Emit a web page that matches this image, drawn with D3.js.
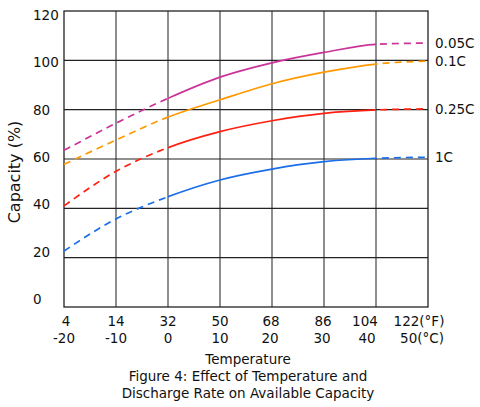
<!DOCTYPE html>
<html>
<head>
<meta charset="utf-8">
<script src="https://cdn.jsdelivr.net/npm/d3@7"></script>
<style>
  body { margin: 0; background: #fff; }
  text { font-family: "DejaVu Sans", Verdana, sans-serif; fill: #111; }
</style>
</head>
<body>
<div id="chart"></div>
<script>
// data
const tempC = [-20, -10, 0, 10, 20, 30, 40, 50];
const tempFLabels = ["4", "14", "32", "50", "68", "86", "104", "122(°F)"];
const tempCLabels = ["-20", "-10", "0", "10", "20", "30", "40", "50(°C)"];
const yTicks = [0, 20, 40, 60, 80, 100, 120];
const rateNames = ["0.05C", "0.1C", "0.25C", "1C"];
const cap005 = [63.5, 74.5, 84.6, 93.2, 99, 103.2, 106.5, 107];
const cap01 = [57.8, 67.7, 77, 84, 90.5, 95.2, 98.5, 99.7];
const cap025 = [41, 55, 64.6, 71.1, 75.5, 78.5, 79.9, 80.3];
const cap1 = [22.7, 35.7, 44.7, 51.5, 55.9, 58.9, 60.3, 60.7];

const colors = ["#cc3399", "#ff9900", "#ff2010", "#1a6fe8"];
const W = 480, H = 407;
const plotL = 64, plotR = 428, plotT = 11, plotB = 307;
const fs = 13.5;
// the scanned labels near the right edge drift left of their grid lines
const fShift = [2, 0, 0, 0, -1, -1, -11, -9];
const cShift = [0, 0, 0, 0, -2, -2, -9, -6];

const svg = d3.select("#chart").append("svg")
  .attr("width", W).attr("height", H);

const x = d3.scaleLinear().domain([-20, 50]).range([plotL, plotR]);
const y = d3.scaleLinear().domain([0, 120]).range([plotB, plotT]);
// the scanned tick labels sit on a slightly tighter spacing than the grid
const yLabel = d3.scaleLinear().domain([0, 120]).range([299, 15]);

// grid
svg.append("g").selectAll("line").data(tempC.slice(1, -1)).join("line")
  .attr("x1", d => x(d)).attr("x2", d => x(d))
  .attr("y1", plotT).attr("y2", plotB)
  .attr("stroke", "#444").attr("stroke-width", 1.2);
svg.append("g").selectAll("line").data(yTicks.slice(1, -1)).join("line")
  .attr("x1", plotL).attr("x2", plotR)
  .attr("y1", d => y(d)).attr("y2", d => y(d))
  .attr("stroke", "#222").attr("stroke-width", 1.2);
svg.append("rect")
  .attr("x", plotL).attr("y", plotT)
  .attr("width", plotR - plotL).attr("height", plotB - plotT)
  .attr("fill", "none").attr("stroke", "#222").attr("stroke-width", 1.3);

// y tick labels
svg.append("g").selectAll("text").data(yTicks).join("text")
  .attr("x", 33).attr("y", d => yLabel(d))
  .attr("dominant-baseline", "central")
  .attr("font-size", fs)
  .text(d => d);

// x tick labels, two rows
svg.append("g").selectAll("text").data(tempC).join("text")
  .attr("x", (d, i) => x(d) + fShift[i])
  .attr("y", 321)
  .attr("text-anchor", "middle").attr("dominant-baseline", "central")
  .attr("font-size", fs)
  .text((d, i) => tempFLabels[i]);
svg.append("g").selectAll("text").data(tempC).join("text")
  .attr("x", (d, i) => x(d) + cShift[i])
  .attr("y", 338)
  .attr("text-anchor", "middle").attr("dominant-baseline", "central")
  .attr("font-size", fs)
  .text((d, i) => tempCLabels[i]);

// titles
svg.append("text")
  .attr("transform", `translate(20,172) rotate(-90)`)
  .attr("text-anchor", "middle")
  .attr("font-size", 16)
  .text("Capacity (%)");
svg.append("text").attr("x", 248).attr("y", 359)
  .attr("text-anchor", "middle").attr("dominant-baseline", "central")
  .attr("font-size", fs).text("Temperature");
svg.append("text").attr("x", 248).attr("y", 376)
  .attr("text-anchor", "middle").attr("dominant-baseline", "central")
  .attr("font-size", fs).text("Figure 4: Effect of Temperature and");
svg.append("text").attr("x", 248).attr("y", 393)
  .attr("text-anchor", "middle").attr("dominant-baseline", "central")
  .attr("font-size", fs).text("Discharge Rate on Available Capacity");

// clip regions: dashed below 0°C and above 40°C, solid between
const defs = svg.append("defs");
const regions = [
  {id: "clipLow", x0: -25, x1: 0, dash: "7,5"},
  {id: "clipMid", x0: 0, x1: 40, dash: null},
  {id: "clipHigh", x0: 40, x1: 55, dash: "7,5"}
];
regions.forEach(r => {
  defs.append("clipPath").attr("id", r.id).append("rect")
    .attr("x", x(r.x0)).attr("y", 0)
    .attr("width", x(r.x1) - x(r.x0)).attr("height", H);
});

const series = [cap005, cap01, cap025, cap1];
const line = d3.line()
  .x((d, i) => x(tempC[i]))
  .y(d => y(d))
  .curve(d3.curveMonotoneX);

series.forEach((vals, s) => {
  regions.forEach(r => {
    svg.append("path")
      .attr("d", line(vals))
      .attr("fill", "none")
      .attr("stroke", colors[s])
      .attr("stroke-width", 1.7)
      .attr("stroke-dasharray", r.dash)
      .attr("clip-path", `url(#${r.id})`);
  });
  svg.append("text")
    .attr("x", 435).attr("y", y(vals[vals.length - 1]))
    .attr("dominant-baseline", "central")
    .attr("font-size", fs)
    .text(rateNames[s]);
});
</script>
</body>
</html>
